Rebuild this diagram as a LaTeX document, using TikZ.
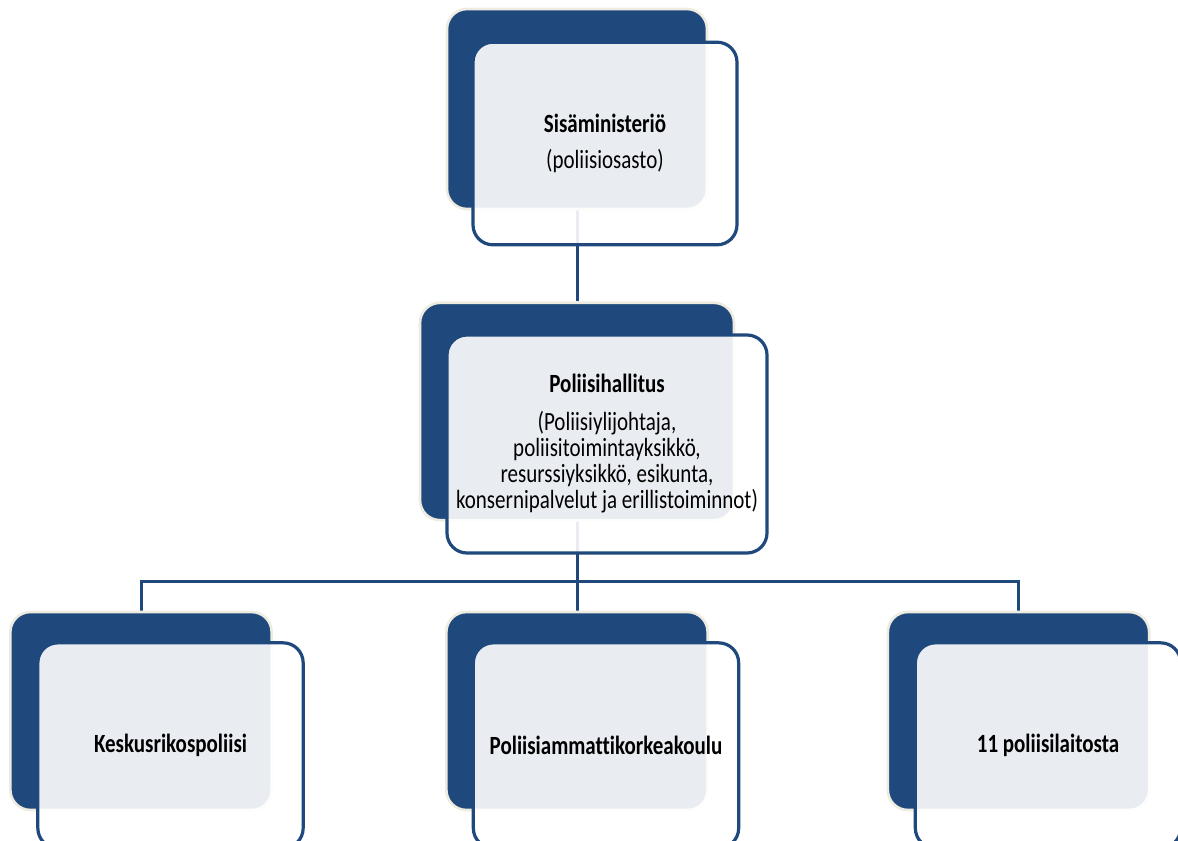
\documentclass[tikz,border=0pt]{standalone}
\usepackage{fontspec}
\setmainfont{Carlito}[FakeStretch=0.8, Ligatures=NoCommon]
\usetikzlibrary{backgrounds}
\definecolor{darkblue}{RGB}{31,73,125}
\definecolor{beige}{RGB}{238,236,225}
\tikzset{every picture/.style={line width=0.75pt}}
\tikzset{
  backbox/.style={draw=beige, line width=2pt, fill=darkblue, rounded corners=15pt, inner sep=0pt},
  frontbox/.style={draw=darkblue, line width=2.4pt, fill=white, fill opacity=0.9, text opacity=1,
    rounded corners=15pt, inner sep=0pt, align=center, font=\fontsize{19.7}{19.5}\selectfont},
  connector/.style={draw=darkblue, line width=2.25pt},
}

\begin{document}
\begin{tikzpicture}[x=0.75pt,y=0.75pt,yscale=-1,xscale=1]
\useasboundingbox (0,0) rectangle (1178,841);

% Sisaministerio
\node [backbox, minimum width=195pt, minimum height=150pt] (smback) at (577,109) {};
\node [frontbox, minimum width=198pt, minimum height=152pt] (smfront) at (605,143.5)
  {\textbf{Sisäministeriö}\\[8pt](poliisiosasto)};

% Poliisihallitus
\node [backbox, minimum width=235.5pt, minimum height=163pt] (phback) at (577,411.5) {};
\node [frontbox, minimum width=240pt, minimum height=163.5pt] (phfront) at (607,444)
  {\textbf{Poliisihallitus}\\[9pt](Poliisiylijohtaja,\\poliisitoimintayksikkö,\\resurssiyksikkö, esikunta,\\konsernipalvelut ja erillistoiminnot)};

% alayksikot
\node [backbox, minimum width=196pt, minimum height=148.5pt] (krpback) at (141,711) {};
\node [frontbox, minimum width=199pt, minimum height=154pt] (krpfront) at (170.5,745.5) {\textbf{Keskusrikospoliisi}};
\node [backbox, minimum width=196pt, minimum height=148.5pt] (polamkback) at (577,711) {};
\node [frontbox, minimum width=199pt, minimum height=154pt] (polamkfront) at (606,745.5) {\textbf{Poliisiammattikorkeakoulu}};
\node [backbox, minimum width=196pt, minimum height=148.5pt] (plback) at (1018.5,711) {};
\node [frontbox, minimum width=199pt, minimum height=154pt] (plfront) at (1048,745.5) {\textbf{11 poliisilaitosta}};

% Connectors
\begin{pgfonlayer}{background}
\coordinate (bus) at (577,581);
\draw [connector] (smback.south) -- (phback.north);
\draw [connector] (phback.south) -- (bus);
\draw [connector] (bus) -| (krpback.north);
\draw [connector] (bus) -- (polamkback.north);
\draw [connector] (bus) -| (plback.north);
\end{pgfonlayer}

\end{tikzpicture}
\end{document}
